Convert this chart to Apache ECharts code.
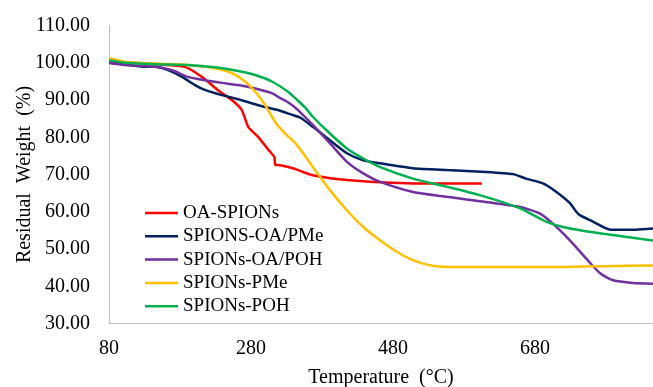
<!DOCTYPE html>
<html>
<head>
<meta charset="utf-8">
<script src="https://cdn.jsdelivr.net/npm/echarts@6/dist/echarts.min.js"></script>
<style>
  html, body {margin: 0; padding: 0; background: #fff;}
  #main {width: 653px; height: 387px;}
</style>
</head>
<body>
<div id="main"></div>
<script>
// TGA curves: temperature (°C) / residual weight (%)
const names = ['OA-SPIONs', 'SPIONS-OA/PMe', 'SPIONs-OA/POH', 'SPIONs-PMe', 'SPIONs-POH'];
const colors = ['#FF0000', '#002060', '#7030A0', '#FFC000', '#00B050'];

const oaT = [80, 112, 145, 163, 187, 211, 233, 253, 267, 276, 290, 305, 313, 314, 321, 340, 367, 415, 462, 508, 560, 605];
const oaW = [100.0, 100.0, 99.6, 99.4, 98.9, 96.2, 92.7, 90.0, 87.3, 82.8, 80.1, 76.5, 74.6, 72.6, 72.5, 71.6, 69.8, 68.5, 67.9, 67.6, 67.6, 67.6];

const pmeOaT = [80, 112, 130, 145, 163, 183, 201, 215, 239, 262, 290, 318, 338, 349, 367, 391, 415, 438, 462, 508, 556, 611, 649, 667, 691, 710, 729, 738, 743, 762, 786, 822, 846];
const pmeOaW = [100.0, 99.3, 98.9, 98.9, 98.0, 96.2, 94.0, 92.7, 91.3, 90.2, 88.6, 87.3, 86.0, 85.3, 82.8, 79.2, 75.7, 73.8, 73.0, 71.7, 71.2, 70.7, 70.1, 68.9, 67.6, 65.3, 62.3, 60.0, 59.1, 57.3, 55.2, 55.2, 55.5];

const pohOaT = [80, 102, 145, 169, 191, 215, 239, 262, 286, 310, 321, 332, 345, 367, 391, 415, 438, 462, 508, 556, 611, 659, 687, 705, 729, 752, 772, 790, 818, 846];
const pohOaW = [100.0, 99.4, 98.9, 98.0, 96.2, 95.3, 94.6, 94.0, 93.1, 91.8, 90.5, 89.4, 87.5, 83.3, 78.4, 73.4, 70.3, 68.0, 65.3, 64.0, 62.6, 61.3, 59.5, 56.8, 52.3, 47.4, 43.4, 41.6, 40.9, 40.7];

const pmeT = [80, 102, 145, 191, 229, 253, 272, 286, 300, 314, 328, 343, 356, 367, 391, 415, 438, 462, 486, 508, 532, 556, 603, 660, 720, 780, 846];
const pmeW = [101.2, 100.3, 99.8, 99.4, 98.5, 97.2, 94.9, 92.2, 88.6, 84.1, 81.0, 78.3, 75.0, 72.0, 65.8, 60.4, 55.9, 52.3, 49.2, 47.0, 45.6, 45.2, 45.2, 45.2, 45.2, 45.4, 45.6];

const pohT = [80, 102, 145, 191, 229, 262, 286, 310, 332, 345, 356, 367, 391, 415, 438, 462, 508, 556, 603, 659, 696, 729, 776, 846];
const pohW = [100.7, 100.0, 99.6, 99.4, 98.8, 97.8, 96.7, 94.9, 92.2, 90.0, 88.0, 85.5, 81.0, 77.0, 74.3, 72.0, 68.9, 66.7, 64.4, 60.9, 57.3, 55.5, 54.1, 52.3];

const temps = [oaT, pmeOaT, pohOaT, pmeT, pohT];
const weights = [oaW, pmeOaW, pohOaW, pmeW, pohW];

const font = 'Liberation Serif';
const chart = echarts.init(document.getElementById('main'));

chart.setOption({
  animation: false,
  color: colors,
  grid: {left: 109, right: 0, top: 25.5, bottom: 63.5, containLabel: false, outerBoundsMode: 'none'},
  legend: {
    orient: 'vertical',
    left: 145,
    top: 203,
    padding: 0,
    icon: 'rect',
    itemWidth: 33,
    itemHeight: 2.5,
    itemGap: 3.3,
    data: names,
    textStyle: {fontFamily: font, fontSize: 19, color: '#000', lineHeight: 20}
  },
  xAxis: {
    type: 'value',
    min: 80,
    max: 846,
    interval: 200,
    name: 'Temperature  (°C)',
    nameLocation: 'middle',
    nameGap: 44,
    nameMoveOverlap: false,
    nameTextStyle: {fontFamily: font, fontSize: 20, color: '#000'},
    axisLine: {show: true, lineStyle: {color: '#BFBFBF', width: 1}},
    axisTick: {show: false},
    splitLine: {show: false},
    axisLabel: {fontFamily: font, fontSize: 20, color: '#000', margin: 15, showMaxLabel: false}
  },
  yAxis: {
    type: 'value',
    min: 30,
    max: 110,
    interval: 10,
    name: 'Residual  Weight  (%)',
    nameLocation: 'middle',
    nameRotate: 90,
    nameGap: 74,
    nameMoveOverlap: false,
    nameTextStyle: {fontFamily: font, fontSize: 20, color: '#000'},
    axisLine: {show: true, lineStyle: {color: '#BFBFBF', width: 1}},
    axisTick: {show: false},
    splitLine: {show: false},
    axisLabel: {
      fontFamily: font, fontSize: 20, color: '#000', margin: 19,
      formatter: v => v.toFixed(2)
    }
  },
  series: names.map((name, i) => ({
    name: name,
    type: 'line',
    symbol: 'none',
    smooth: 0.2,
    lineStyle: {width: 2.5, color: colors[i]},
    itemStyle: {color: colors[i]},
    data: temps[i].map((t, j) => [t, weights[i][j]])
  }))
});
</script>
</body>
</html>
